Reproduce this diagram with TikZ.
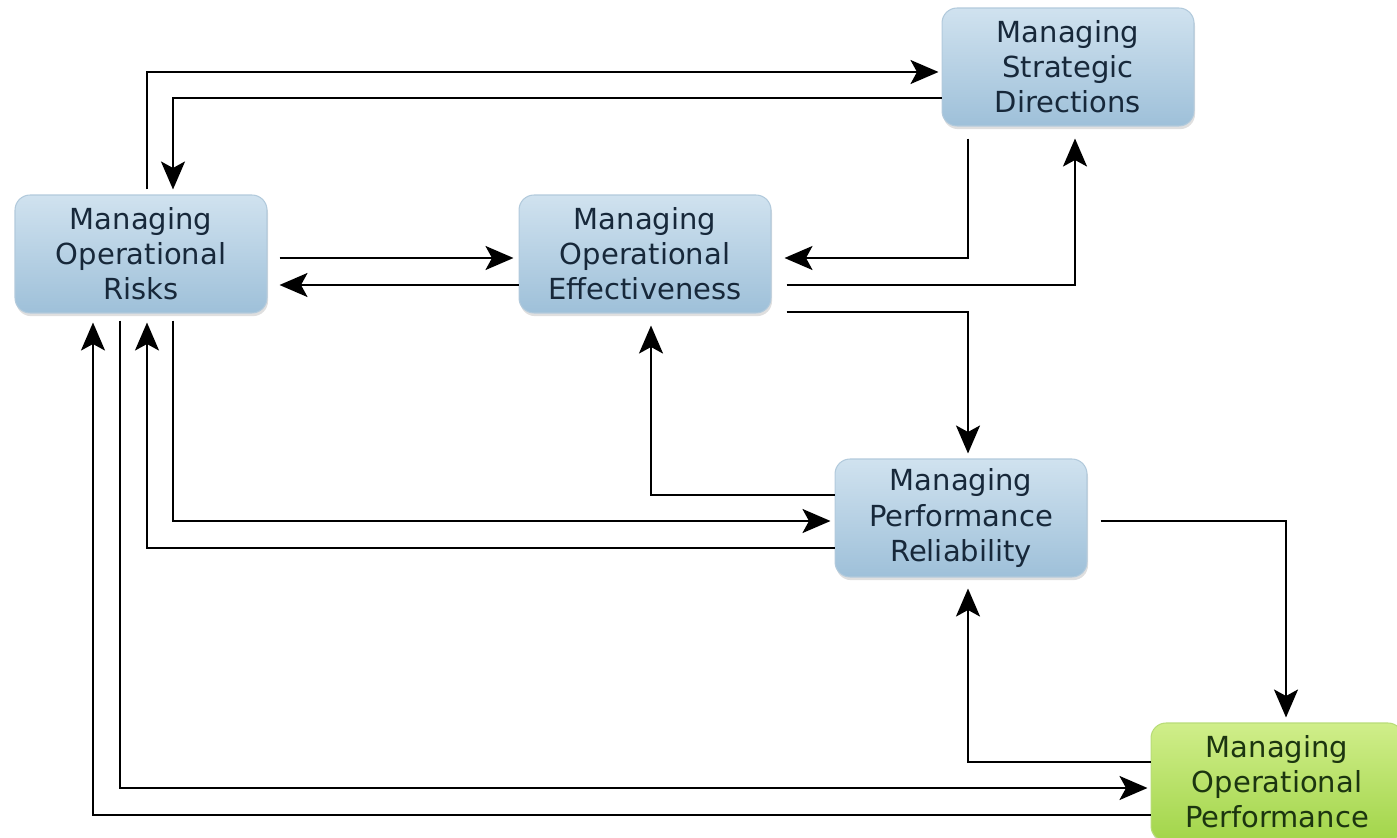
\documentclass[tikz,border=0pt]{standalone}
\usepackage{fontspec}
\setmainfont{DejaVu Sans}
\usepackage{tikz}
\usetikzlibrary{arrows.meta,calc,shadows}
\definecolor{myboxtop}{HTML}{D0E2EF}
\definecolor{myboxbottom}{HTML}{9EC0D9}
\definecolor{myboxline}{HTML}{B2CADC}
\definecolor{mygreentop}{HTML}{D0EE8A}
\definecolor{mygreenbottom}{HTML}{A2D54A}
\definecolor{mygreenline}{HTML}{B8DC78}
\definecolor{mytextblue}{HTML}{17283A}
\definecolor{mytextgreen}{HTML}{1C3510}

\begin{document}
\begin{tikzpicture}[x=0.02cm, y=-0.02cm,
  mybox/.style={rectangle, rounded corners=0.3cm, draw=myboxline, line width=0.6pt,
    top color=myboxtop, bottom color=myboxbottom, text=mytextblue,
    minimum width=5.04cm, minimum height=2.36cm, align=center, inner sep=0pt,
    font=\fontsize{16.5pt}{20pt}\selectfont,
    drop shadow={opacity=0.25, shadow xshift=0.6pt, shadow yshift=-1.8pt}},
  mygreenbox/.style={mybox, draw=mygreenline, top color=mygreentop,
    bottom color=mygreenbottom, text=mytextgreen},
  myarrow/.style={line width=1.3pt, -{Stealth[length=0.56cm, width=0.48cm, inset=0.13cm]}}]%
\useasboundingbox (0,0) rectangle (1397,838);%
\node[mybox] (risks) at (141,254) {Managing\\Operational\\Risks};%
\node[mybox] (eff) at (645,254) {Managing\\Operational\\Effectiveness};%
\node[mybox] (strat) at (1068,67) {Managing\\Strategic\\Directions};%
\node[mybox] (rel) at (961,518) {Managing\\Performance\\Reliability};%
\node[mygreenbox] (perf) at (1277,782) {Managing\\Operational\\Performance};%
% top loop
\draw[myarrow] ($(risks.north)+(6,-5)$) |- ($(strat.west)+(-3,5)$);%
\draw[myarrow] ($(strat.west)+(0,31)$) -| ($(risks.north)+(32,-5)$);%
% middle row
\draw[myarrow] ($(risks.east)+(12,4)$) -- ($(eff.west)+(-5,4)$);%
\draw[myarrow] ($(eff.west)+(0,31)$) -- ($(risks.east)+(12,31)$);%
\draw[myarrow] ($(strat.south)+(-100,12)$) |- ($(eff.east)+(13,4)$);%
\draw[myarrow] ($(eff.east)+(15,31)$) -| ($(strat.south)+(7,12)$);%
\draw[myarrow] ($(eff.east)+(15,58)$) -| ($(rel.north)+(7,-5)$);%
\draw[myarrow] ($(rel.west)+(0,-23)$) -| ($(eff.south)+(6,12)$);%
% reliability
\draw[myarrow] ($(risks.south)+(32,7)$) |- ($(rel.west)+(-4,3)$);%
\draw[myarrow] ($(rel.west)+(0,30)$) -| ($(risks.south)+(6,9)$);%
\draw[myarrow] ($(rel.east)+(13,3)$) -| ($(perf.north)+(9,-5)$);%
\draw[myarrow] ($(perf.west)+(0,-20)$) -| ($(rel.south)+(7,11)$);%
% bottom loop
\draw[myarrow] ($(risks.south)+(-21,7)$) |- ($(perf.west)+(-3,6)$);%
\draw[myarrow] ($(perf.west)+(0,33)$) -| ($(risks.south)+(-48,9)$);%
\end{tikzpicture}
\end{document}
